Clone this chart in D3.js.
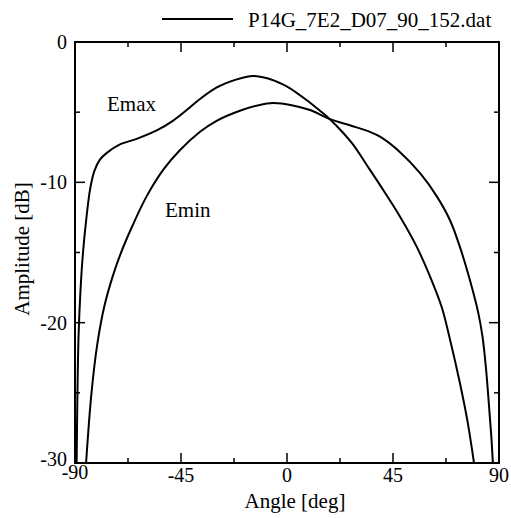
<!DOCTYPE html>
<html>
<head>
<meta charset="utf-8">
<script src="https://cdn.jsdelivr.net/npm/d3@7"></script>
<style>
  body { margin: 0; background: #fff; }
</style>
</head>
<body>
<div id="chart"></div>
<script>
// data
var emaxAngle = [-89.3, -89, -88.5, -87.7, -86.6, -85.2, -83.6, -81.8, -79.5, -76.5, -70.9, -63.8, -55.3, -48.3, -42.6, -38, -30, -22, -14.4, -8, -2, 1.3, 8, 14, 18.2, 24, 28, 34, 39.5, 48, 55.1, 60.7, 65.7, 69.2, 73.4, 76.6, 79.4];
var emaxDb    = [-30, -25.5, -21, -17.8, -15, -12.6, -10.5, -9.2, -8.4, -7.9, -7.3, -6.9, -6.3, -5.6, -4.85, -4.2, -3.25, -2.7, -2.42, -2.6, -3.0, -3.3, -4.1, -4.9, -5.5, -6.5, -7.3, -8.8, -10.2, -12.45, -14.6, -16.7, -18.9, -21.2, -24.3, -27, -30];
var eminAngle = [-85.3, -83, -80.5, -77.5, -74, -70.9, -65.9, -59.6, -52.5, -45.4, -36.9, -29.7, -20, -12, -5.9, 2, 9.8, 18.2, 27, 35.2, 39.5, 48, 56.5, 63.6, 69.2, 73.4, 77.7, 81.2, 83, 84.5, 85.7, 86.7, 87.4];
var eminDb    = [-30, -25, -21.5, -18.8, -16.7, -15.2, -13.2, -11.0, -9.1, -7.7, -6.4, -5.6, -4.9, -4.5, -4.35, -4.5, -4.85, -5.5, -5.95, -6.4, -6.75, -7.85, -9.35, -11.0, -12.7, -14.6, -17.0, -19.3, -21, -23.3, -25.8, -28, -30];
var xTicks = [-90, -45, 0, 45, 90];
var xMinor = [-67.5, -22.5, 22.5, 67.5];
var yTicks = [0, -10, -20, -30];
var yMinor = [-5, -15, -25];
var legendLabel = "P14G_7E2_D07_90_152.dat";
var curveNames = ["Emax", "Emin"];

var svg_Width = 511;
var svg_Height = 518;
var margin = { top: 42, right: 12, bottom: 55, left: 75 };
var chart_Width = svg_Width - margin.left - margin.right;
var chart_Height = svg_Height - margin.top - margin.bottom;
var serif = "'Liberation Serif', 'DejaVu Serif', 'Times New Roman', serif";

var svg = d3.select('#chart')
  .append('svg')
  .attr('width', svg_Width)
  .attr('height', svg_Height)
  .attr('font-family', serif)
  .style('font-family', serif)
  .attr('font-size', '21px');

var g = svg.append('g')
  .attr('transform', 'translate(' + margin.left + ',' + margin.top + ')');

var x = d3.scaleLinear().domain([-90, 90]).range([0, chart_Width]);
var y = d3.scaleLinear().domain([-30, 0]).range([chart_Height, 0]);

// frame
g.append('rect')
  .attr('width', chart_Width)
  .attr('height', chart_Height)
  .attr('fill', 'none')
  .attr('stroke', '#000')
  .attr('stroke-width', 2);

// inward ticks on all four sides
function ticks(values, len) {
  values.forEach(function(v) {
    if (v === -90 || v === 90) return;
    g.append('line').attr('x1', x(v)).attr('x2', x(v)).attr('y1', chart_Height).attr('y2', chart_Height - len)
      .attr('stroke', '#000').attr('stroke-width', 1.5);
    g.append('line').attr('x1', x(v)).attr('x2', x(v)).attr('y1', 0).attr('y2', len)
      .attr('stroke', '#000').attr('stroke-width', 1.5);
  });
}
function yticks(values, len) {
  values.forEach(function(v) {
    if (v === 0 || v === -30) return;
    g.append('line').attr('x1', 0).attr('x2', len).attr('y1', y(v)).attr('y2', y(v))
      .attr('stroke', '#000').attr('stroke-width', 1.5);
    g.append('line').attr('x1', chart_Width).attr('x2', chart_Width - len).attr('y1', y(v)).attr('y2', y(v))
      .attr('stroke', '#000').attr('stroke-width', 1.5);
  });
}
ticks(xTicks, 10);
ticks(xMinor, 5);
yticks(yTicks, 10);
yticks(yMinor, 5);

// tick labels
g.selectAll('.xlab')
  .data(xTicks)
  .enter()
  .append('text')
  .attr('x', function(d) { return x(d); })
  .attr('y', function(d) { return d === -90 ? chart_Height + 16 : chart_Height + 19; })
  .attr('text-anchor', 'middle')
  .attr('font-size', '20px')
  .text(function(d) { return d; });

g.selectAll('.ylab')
  .data(yTicks)
  .enter()
  .append('text')
  .attr('x', -8)
  .attr('y', function(d) { return d === -30 ? y(d) + 3 : y(d) + 7; })
  .attr('text-anchor', 'end')
  .attr('font-size', '20px')
  .text(function(d) { return d; });

// axis titles
svg.append('text')
  .attr('x', 295)
  .attr('y', 508)
  .attr('text-anchor', 'middle')
  .text('Angle [deg]');

svg.append('text')
  .attr('transform', 'translate(29,249) rotate(-90)')
  .attr('text-anchor', 'middle')
  .text('Amplitude [dB]');

// curves
var line = d3.line()
  .x(function(d) { return x(d[0]); })
  .y(function(d) { return y(d[1]); })
  .curve(d3.curveCatmullRom.alpha(0.5));

var emax = d3.zip(emaxAngle, emaxDb);
var emin = d3.zip(eminAngle, eminDb);

[emax, emin].forEach(function(s) {
  g.append('path')
    .datum(s)
    .attr('d', line)
    .attr('fill', 'none')
    .attr('stroke', '#000')
    .attr('stroke-width', 2);
});

// curve names
svg.append('text').attr('x', 107).attr('y', 111).text(curveNames[0]);
svg.append('text').attr('x', 165).attr('y', 217).text(curveNames[1]);

// legend
svg.append('line')
  .attr('x1', 162).attr('x2', 233).attr('y1', 19).attr('y2', 19)
  .attr('stroke', '#000').attr('stroke-width', 2);
svg.append('text')
  .attr('x', 248)
  .attr('y', 27)
  .text(legendLabel);
</script>
</body>
</html>
